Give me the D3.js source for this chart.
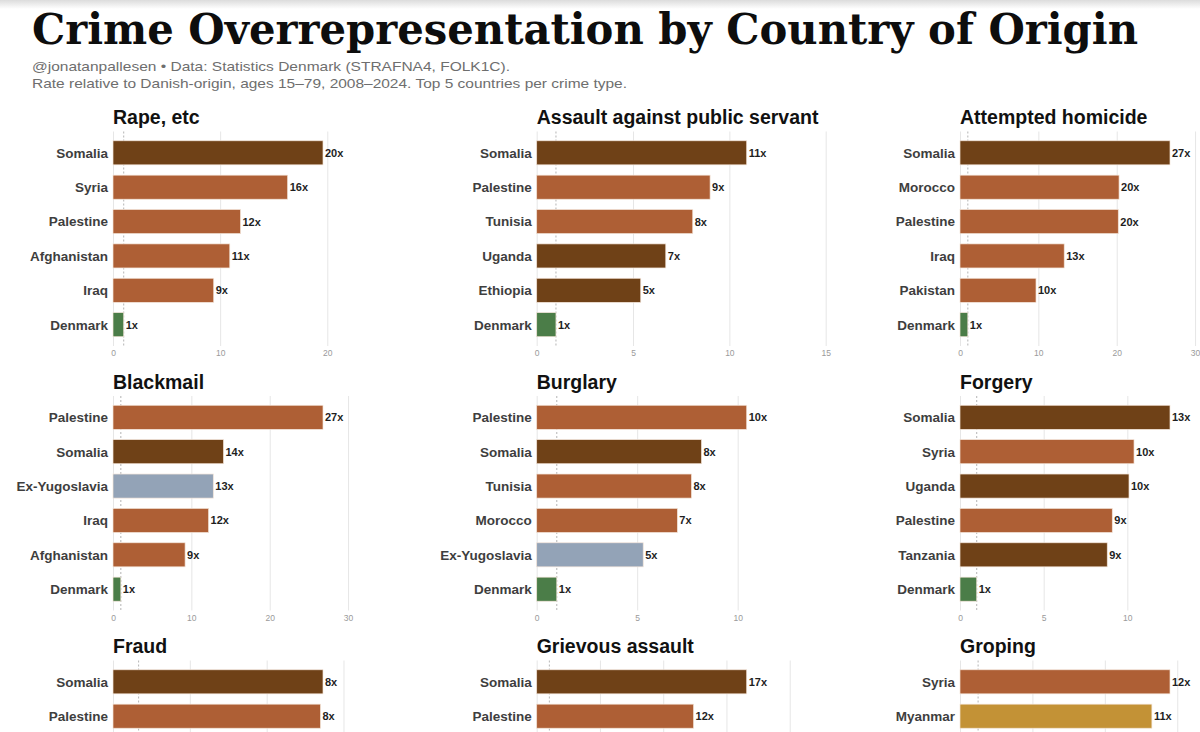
<!DOCTYPE html>
<html>
<head>
<meta charset="utf-8">
<script src="https://cdn.jsdelivr.net/npm/d3@7"></script>
<style>
  body { margin: 0; background: #fff; }
  svg { display: block; }
</style>
</head>
<body>
<svg id="chart" width="1200" height="732"></svg>
<script>
// ── Data ────────────────────────────────────────────────────────────────────
const crimeTitles = [
  'Rape, etc', 'Assault against public servant', 'Attempted homicide',
  'Blackmail', 'Burglary', 'Forgery',
  'Fraud', 'Grievous assault', 'Groping'
];

const countryLists = [
  ['Somalia', 'Syria', 'Palestine', 'Afghanistan', 'Iraq', 'Denmark'],
  ['Somalia', 'Palestine', 'Tunisia', 'Uganda', 'Ethiopia', 'Denmark'],
  ['Somalia', 'Morocco', 'Palestine', 'Iraq', 'Pakistan', 'Denmark'],
  ['Palestine', 'Somalia', 'Ex-Yugoslavia', 'Iraq', 'Afghanistan', 'Denmark'],
  ['Palestine', 'Somalia', 'Tunisia', 'Morocco', 'Ex-Yugoslavia', 'Denmark'],
  ['Somalia', 'Syria', 'Uganda', 'Palestine', 'Tanzania', 'Denmark'],
  ['Somalia', 'Palestine'],
  ['Somalia', 'Palestine'],
  ['Syria', 'Myanmar']
];

const valueLists = [
  [19.6, 16.3, 11.9, 10.9, 9.4, 1],
  [10.9, 9.0, 8.1, 6.7, 5.4, 1],
  [26.8, 20.3, 20.2, 13.3, 9.7, 1],
  [26.8, 14.1, 12.8, 12.2, 9.2, 1],
  [10.45, 8.2, 7.7, 7.0, 5.3, 1],
  [12.55, 10.4, 10.1, 9.1, 8.8, 1],
  [8.2, 8.1],
  [16.6, 12.4],
  [11.6, 10.6]
];

const tickLists = [
  [0, 10, 20], [0, 5, 10, 15], [0, 10, 20, 30],
  [0, 10, 20, 30], [0, 5, 10], [0, 5, 10, 15],
  [0, 3, 6, 9], [0, 5, 10, 15, 20], [0, 4, 8, 12]
];

// Region colouring
const REGION = {
  Somalia: 'eafrica', Uganda: 'eafrica', Ethiopia: 'eafrica', Tanzania: 'eafrica',
  Syria: 'mena', Palestine: 'mena', Afghanistan: 'mena', Iraq: 'mena',
  Tunisia: 'mena', Morocco: 'mena', Pakistan: 'mena',
  'Ex-Yugoslavia': 'balkan', Myanmar: 'asia', Denmark: 'dk'
};
const COLORS = {
  eafrica: '#6f4117', mena: '#ae5f35', balkan: '#93a3b7', asia: '#c39236', dk: '#4b7d48'
};

// ── Layout ─────────────────────────────────────────────────────────────────
const W = 1200, H = 732;
const COL_X    = [113, 536.7, 960];
const ROW_STEP = 264.5;
const PLOT_W   = 294;
const GRID_TOP = 131.5, GRID_BOT = 346;
const N_ROWS   = 6;
const SANS     = '"Liberation Sans", Arial, Helvetica, sans-serif';

const svg = d3.select('#chart');

// faint grey band at the very top (screenshot edge)
const defs = svg.append('defs');
const grad = defs.append('linearGradient')
  .attr('id', 'topfade').attr('x1', 0).attr('x2', 0).attr('y1', 0).attr('y2', 1);
grad.append('stop').attr('offset', '0%').attr('stop-color', '#dcdcdc');
grad.append('stop').attr('offset', '100%').attr('stop-color', '#ffffff');
svg.append('rect').attr('width', W).attr('height', 9).attr('fill', 'url(#topfade)');

// ── Header ─────────────────────────────────────────────────────────────────
svg.append('text')
  .attr('x', 32).attr('y', 44)
  .attr('font-family', '"DejaVu Serif", Georgia, serif')
  .attr('font-weight', 'bold')
  .attr('font-size', 43)
  .attr('fill', '#0d0d0d')
  .attr('textLength', 1106)
  .attr('lengthAdjust', 'spacingAndGlyphs')
  .text('Crime Overrepresentation by Country of Origin');

svg.append('text')
  .attr('x', 32).attr('y', 71)
  .attr('font-family', SANS).attr('font-size', 13.5)
  .attr('fill', '#6e6e6e')
  .attr('textLength', 478).attr('lengthAdjust', 'spacingAndGlyphs')
  .text('@jonatanpallesen \u2022 Data: Statistics Denmark (STRAFNA4, FOLK1C).');

svg.append('text')
  .attr('x', 32).attr('y', 87.5)
  .attr('font-family', SANS).attr('font-size', 13.5)
  .attr('fill', '#6e6e6e')
  .attr('textLength', 595).attr('lengthAdjust', 'spacingAndGlyphs')
  .text('Rate relative to Danish-origin, ages 15\u201379, 2008\u20132024. Top 5 countries per crime type.');

// ── Panels ─────────────────────────────────────────────────────────────────
crimeTitles.forEach((title, i) => {
  const col = i % 3, row = Math.floor(i / 3);
  const x0 = COL_X[col];
  const dy = row * ROW_STEP;
  const names = countryLists[i];
  const vals  = valueLists[i];
  const rows  = names.map((n, k) => ({ name: n, value: vals[k], idx: k }));

  const maxV = d3.max(vals);
  const x = d3.scaleLinear().domain([0, maxV * 1.4]).range([0, PLOT_W]);
  const y = d3.scaleBand()
    .domain(d3.range(N_ROWS))
    .range([GRID_TOP, GRID_BOT])
    .paddingInner(0.3)
    .paddingOuter(0.27);

  const g = svg.append('g').attr('transform', `translate(${x0},${dy})`);

  // panel title
  g.append('text')
    .attr('x', 0).attr('y', 124)
    .attr('font-family', SANS).attr('font-weight', 'bold')
    .attr('font-size', 19.5).attr('fill', '#111')
    .text(title);

  // gridlines + tick labels (only what falls on the page)
  const ticks = tickLists[i].filter(t => t <= x.domain()[1] && x0 + x(t) < W);
  const axis = d3.axisBottom(x).tickValues(ticks).tickSize(-(GRID_BOT - GRID_TOP)).tickPadding(4);
  const axG = g.append('g')
    .attr('transform', `translate(0,${GRID_BOT})`)
    .call(axis);
  axG.select('.domain').remove();
  axG.selectAll('.tick line').attr('stroke', '#e6e6e6').attr('stroke-width', 1);
  if (dy + GRID_BOT + 12 < H) {
    axG.selectAll('.tick text')
      .attr('font-family', SANS).attr('font-size', 8.5).attr('fill', '#9a9a9a');
  } else {
    axG.selectAll('.tick text').remove();
  }

  // reference line at 1x
  g.append('line')
    .attr('x1', x(1)).attr('x2', x(1))
    .attr('y1', GRID_TOP).attr('y2', GRID_BOT)
    .attr('stroke', '#b4b4b4').attr('stroke-width', 1)
    .attr('stroke-dasharray', '2,2');

  // bars
  g.selectAll('rect.bar')
    .data(rows)
    .join('rect')
      .attr('class', 'bar')
      .attr('x', x(0))
      .attr('y', d => y(d.idx))
      .attr('width', d => x(d.value) - x(0))
      .attr('height', y.bandwidth())
      .attr('fill', d => COLORS[REGION[d.name]])
      .attr('stroke', '#f3e4d8')
      .attr('stroke-width', 0.7);

  // country labels
  g.selectAll('text.country')
    .data(rows)
    .join('text')
      .attr('class', 'country')
      .attr('x', -5)
      .attr('y', d => y(d.idx) + y.bandwidth() / 2)
      .attr('dy', '0.36em')
      .attr('text-anchor', 'end')
      .attr('font-family', SANS).attr('font-weight', 'bold')
      .attr('font-size', 13.5).attr('fill', '#3e3e3e')
      .text(d => d.name);

  // value labels
  g.selectAll('text.val')
    .data(rows)
    .join('text')
      .attr('class', 'val')
      .attr('x', d => x(d.value) + 2)
      .attr('y', d => y(d.idx) + y.bandwidth() / 2)
      .attr('dy', '0.36em')
      .attr('font-family', SANS).attr('font-weight', 'bold')
      .attr('font-size', 11).attr('fill', '#1e1e1e')
      .text(d => Math.round(d.value) + 'x');
});
</script>
</body>
</html>
